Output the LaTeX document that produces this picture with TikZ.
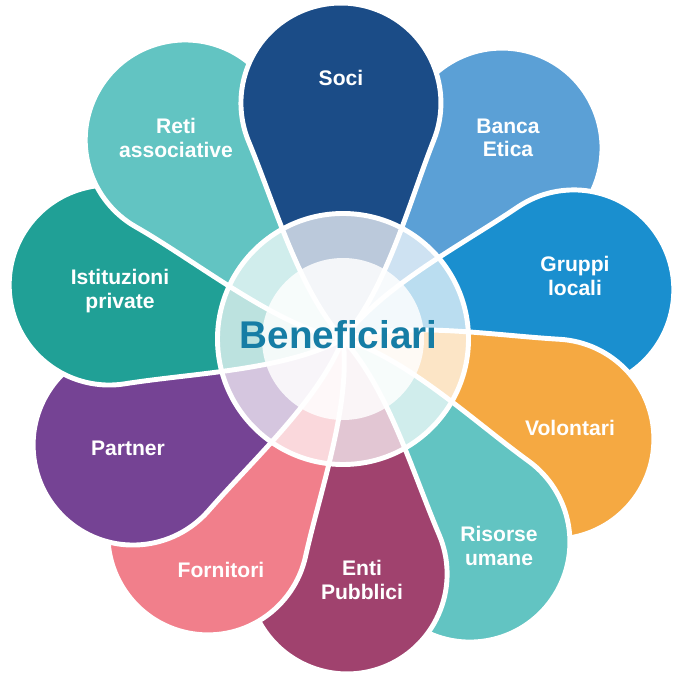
\documentclass[tikz,border=0pt]{standalone}
\usepackage{fontspec}
\setmainfont{Liberation Sans}

\definecolor{soci}{RGB}{27,76,135}
\definecolor{banca}{RGB}{91,160,214}
\definecolor{gruppi}{RGB}{26,143,207}
\definecolor{volontari}{RGB}{245,169,66}
\definecolor{risorse}{RGB}{98,196,194}
\definecolor{enti}{RGB}{160,66,110}
\definecolor{fornitori}{RGB}{241,127,139}
\definecolor{partner}{RGB}{117,67,148}
\definecolor{istituzioni}{RGB}{32,160,150}
\definecolor{reti}{RGB}{98,196,194}
\definecolor{benef}{RGB}{22,125,165}

\tikzset{
  petal/.style={fill=#1, draw=white, line width=2.8pt, line join=round},
  petaltext/.style={text=white, align=center, font=\fontsize{12}{13.3}\selectfont\bfseries},
}

\begin{document}
\begin{tikzpicture}[x=0.02cm, y=0.02cm]

\path[fill=white] (-343,-339) rectangle (329,339);
\useasboundingbox (-343,-339) rectangle (329,339);

% petals, clockwise, each one over the one before
\foreach \ang/\dist/\col in {50.2/248.5/banca, 12/236/gruppi, -25.4/233.5/volontari,
    -58/239.5/risorse, -89/235/enti, -124.6/238/fornitori, -153.2/235.2/partner,
    167/240/istituzioni, 128.4/254/reti, 90.5/236/soci}
  \path[petal=\col, rotate=\ang] (0,0) .. controls (50,-44) and ({\dist-102.4},-66.5)
    .. ({\dist-37.5},-92.7) arc[start angle=-112, end angle=112, radius=100]
    .. controls ({\dist-102.4},66.5) and (50,44) .. cycle;

% ring and hub
\coordinate (hub) at (0,0);
\fill[white, fill opacity=0.7] (hub) circle[radius=125.5];
\draw[white, line width=2.8pt] (hub) circle[radius=125.5];
\fill[white, fill opacity=0.84] (hub) circle[radius=81];

\node[petaltext] (soci) at (-2,261) {Soci};
\node[petaltext] (banca) at (165,201) {Banca\\Etica};
\node[petaltext] (gruppi) at (232,63) {Gruppi\\locali};
\node[petaltext] (volontari) at (227,-89) {Volontari};
\node[petaltext] (risorse) at (156,-207) {Risorse\\umane};
\node[petaltext] (enti) at (19,-241) {Enti\\Pubblici};
\node[petaltext] (fornitori) at (-122,-231) {Fornitori};
\node[petaltext] (partner) at (-215,-109) {Partner};
\node[petaltext] (istituzioni) at (-223,48) {Istituzioni\\private};
\node[petaltext] (reti) at (-167,201) {Reti\\associative};

\node[anchor=base, text=benef, font=\fontsize{22}{24}\selectfont\bfseries] (beneficiari) at (-4.5,-10) {Beneficiari};

\end{tikzpicture}
\end{document}
